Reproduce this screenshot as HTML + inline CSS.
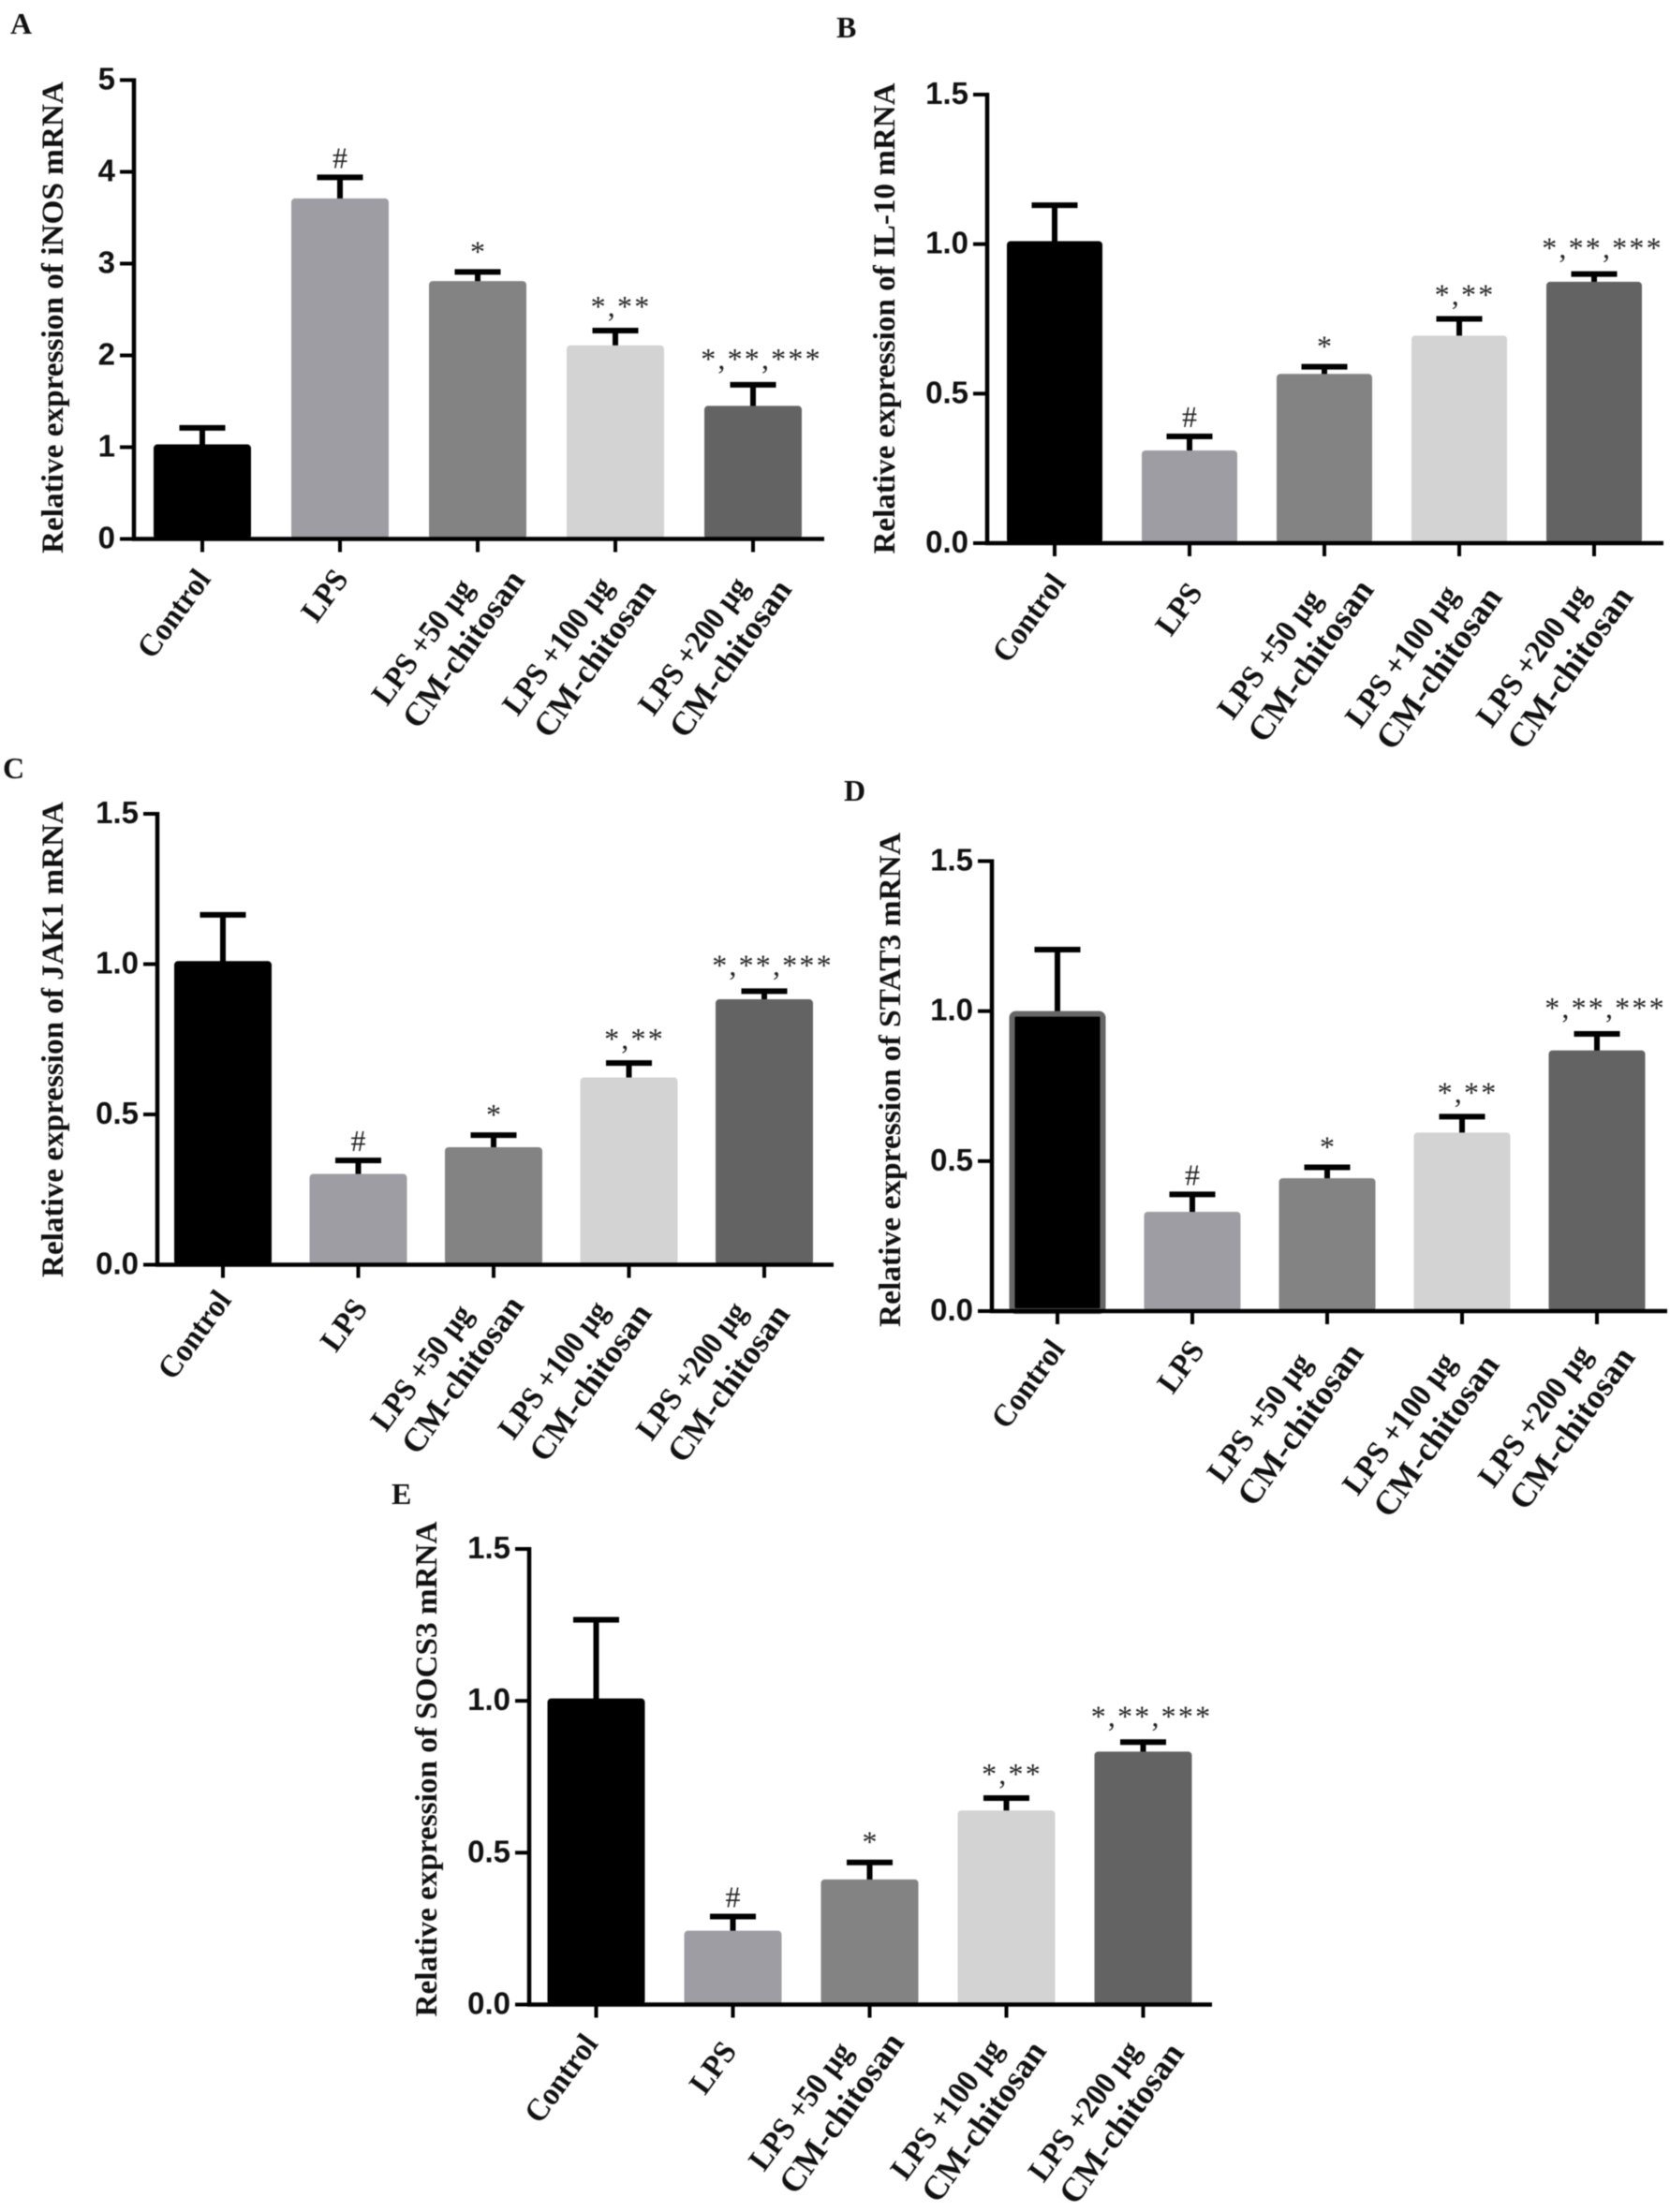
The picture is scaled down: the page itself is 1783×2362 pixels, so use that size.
<!DOCTYPE html>
<html lang="en">
<head>
<meta charset="utf-8">
<title>Relative mRNA expression bar charts</title>
<style>
html,body{margin:0;padding:0;background:#fff;}
body{width:1783px;height:2362px;overflow:hidden;}
svg{display:block;filter:blur(0.6px);}
.tick{font-family:"Liberation Sans",sans-serif;font-weight:700;font-size:33px;fill:#111;}
.serif{font-family:"Liberation Serif",serif;font-weight:700;fill:#111;}
.note{font-family:"Liberation Serif",serif;fill:#222;font-size:32px;}
</style>
</head>
<body>
<svg id="figure" xmlns="http://www.w3.org/2000/svg" width="1783" height="2362" viewBox="0 0 1783 2362"></svg>
<script>
var categories = [["Control"], ["LPS"], ["LPS +50 μg", "CM-chitosan"], ["LPS +100 μg", "CM-chitosan"], ["LPS +200 μg", "CM-chitosan"]];
var barColors = ["#000000", "#9d9da3", "#838383", "#d3d3d3", "#636363"];
var annotations = ["", "#", "*", "*,**", "*,**,***"];

var ticksA = ["0", "1", "2", "3", "4", "5"];
var ticksOther = ["0.0", "0.5", "1.0", "1.5"];

var iNOSMeans = [1.03, 3.71, 2.81, 2.11, 1.45];
var iNOSErrorTops = [1.21, 3.94, 2.91, 2.27, 1.68];
var il10Means = [1.01, 0.31, 0.566, 0.694, 0.874];
var il10ErrorTops = [1.13, 0.357, 0.59, 0.75, 0.90];
var jak1Means = [1.01, 0.302, 0.391, 0.623, 0.883];
var jak1ErrorTops = [1.164, 0.347, 0.431, 0.671, 0.91];
var stat3Means = [1.0, 0.331, 0.443, 0.595, 0.869];
var stat3ErrorTops = [1.205, 0.389, 0.479, 0.648, 0.924];
var socs3Means = [1.008, 0.243, 0.412, 0.639, 0.833];
var socs3ErrorTops = [1.267, 0.29, 0.468, 0.68, 0.864];

var panels = [
  {id:"a", letter:"A", letterX:11, letterY:36, means:iNOSMeans, tops:iNOSErrorTops, ticks:ticksA, yMax:5,
   title:"Relative expression of iNOS mRNA", titleX:67, titleMid:339, titleLen:504,
   axisX:143, axisEnd:880, yTop:85.5, y0:575.5, firstX:216, step:147, barW:104, outline:false, labelScale:1,
   nudgeX:[0,0,0,-7,-9], nudgeY:[0,0,0,10,10]},
  {id:"b", letter:"B", letterX:893, letterY:40, means:il10Means, tops:il10ErrorTops, ticks:ticksOther, yMax:1.5,
   title:"Relative expression of IL-10 mRNA", titleX:955, titleMid:340, titleLen:503,
   axisX:1054, axisEnd:1776, yTop:101, y0:580, firstX:1126, step:144, barW:102, outline:false, labelScale:1.03,
   nudgeX:[3,5,-1,-8,-12], nudgeY:[0,10,10.5,18.5,18]},
  {id:"c", letter:"C", letterX:3, letterY:831, means:jak1Means, tops:jak1ErrorTops, ticks:ticksOther, yMax:1.5,
   title:"Relative expression of JAK1 mRNA", titleX:67, titleMid:1110, titleLen:508,
   axisX:168, axisEnd:890, yTop:869, y0:1350.5, firstX:238, step:144.5, barW:104, outline:false, labelScale:1,
   nudgeX:[0,1,-18,-26,-23], nudgeY:[-5,4,0,8,9]},
  {id:"d", letter:"D", letterX:901, letterY:855, means:stat3Means, tops:stat3ErrorTops, ticks:ticksOther, yMax:1.5,
   title:"Relative expression of STAT3 mRNA", titleX:961, titleMid:1153, titleLen:528,
   axisX:1059, axisEnd:1780, yTop:919.5, y0:1400, firstX:1129, step:144, barW:103, outline:true, labelScale:1.03,
   nudgeX:[-1,4,-15,-14,-13], nudgeY:[-2,-1,6,18,10]},
  {id:"e", letter:"E", letterX:418, letterY:1606, means:socs3Means, tops:socs3ErrorTops, ticks:ticksOther, yMax:1.5,
   title:"Relative expression of SOCS3 mRNA", titleX:466, titleMid:1889, titleLen:529,
   axisX:565, axisEnd:1294, yTop:1654, y0:2140.5, firstX:636.5, step:146, barW:104, outline:false, labelScale:1.02,
   nudgeX:[-7,-5,-16,-10,-9], nudgeY:[-1,7,0,9,11]}
];

var SVG_NS = "http://www.w3.org/2000/svg";
var figure = document.getElementById("figure");

function make(tag, attrs, parent, text) {
  var node = document.createElementNS(SVG_NS, tag);
  for (var key in attrs) { node.setAttribute(key, attrs[key]); }
  if (text !== undefined) { node.textContent = text; }
  parent.appendChild(node);
  return node;
}

function yScale(p, value) { return p.y0 - (value / p.yMax) * (p.y0 - p.yTop); }
function xScale(p, index) { return p.firstX + index * p.step; }

function condense(node, ratio) {
  var length = node.getComputedTextLength() * ratio;
  node.setAttribute("textLength", length);
  node.setAttribute("lengthAdjust", "spacingAndGlyphs");
  return length;
}

panels.forEach(function (p) {
  var g = make("g", {}, figure);
  
  

  var letter = make("text", {x:p.letterX, y:p.letterY, "class":"serif", "font-size":32}, g, p.letter);
  
  

  var title = make("text", {
    transform:"translate(" + p.titleX + "," + p.titleMid + ") rotate(-90)",
    "text-anchor":"middle", "class":"serif", "font-size":33,
    textLength:p.titleLen, lengthAdjust:"spacingAndGlyphs"
  }, g, p.title);
  
  

  p.means.forEach(function (mean, i) {
    var cx = xScale(p, i);
    var topY = yScale(p, mean);
    var capY = yScale(p, p.tops[i]);

    var stem = make("line", {x1:cx, x2:cx, y1:capY, y2:topY + 3, stroke:"#000", "stroke-width":6}, g);
    
    

    var cap = make("line", {x1:cx - 24.5, x2:cx + 24.5, y1:capY, y2:capY, stroke:"#000", "stroke-width":6}, g);
    
    

    var inset = (p.outline && i === 0) ? 3 : 0;
    var bar = make("rect", {
      x:cx - p.barW / 2 + inset, y:topY + inset, width:p.barW - 2 * inset, height:p.y0 - topY - inset,
      rx:4, fill:barColors[i]
    }, g);
    if (inset) { bar.setAttribute("stroke", "#666"); bar.setAttribute("stroke-width", 6); }
    
    

    var note = annotations[i];
    if (note) {
      var isHash = note === "#";
      var shift = note.length > 4 ? 9 : (note.length > 1 ? 6 : 0);
      var lift = isHash ? 10 : (note.length > 4 ? 17 : (note.length > 1 ? 15 : 11));
      var noteText = make("text", {
        x:cx + shift, y:capY - lift, "text-anchor":"middle", "class":"note",
        "letter-spacing":note.length > 1 ? 2.2 : 0
      }, g, note);
      
      
    }

    var tick = make("line", {x1:cx, x2:cx, y1:p.y0, y2:p.y0 + 14, stroke:"#000", "stroke-width":4}, g);
    
    

    var lines = categories[i];
    var nx = p.nudgeX[i];
    var ny = p.nudgeY[i];
    if (lines.length === 1) {
      var single = make("text", {
        transform:"translate(" + (cx + 10 + nx) + "," + (p.y0 + 43 + ny) + ") rotate(-54)",
        "text-anchor":"end", "class":"serif", "font-size":34
      }, g, lines[0]);
      condense(single, 0.95);
      
      
    } else {
      var line1 = make("text", {
        "text-anchor":"start", "class":"serif", "font-size":34
      }, g, lines[0]);
      var line1Len = condense(line1, 0.93 * p.labelScale);
      var extra = Math.max(0, line1Len - 172 * p.labelScale);
      line1.setAttribute("transform", "translate(" + (cx - 96.7 + nx - extra * 0.6) + "," + (p.y0 + 179.5 + ny + extra * 0.8) + ") rotate(-53.5)");
      
      
      var line2 = make("text", {
        transform:"translate(" + (cx - 63 + nx) + "," + (p.y0 + 204.5 + ny) + ") rotate(-54.5)",
        "text-anchor":"start", "class":"serif", "font-size":35.5 * p.labelScale
      }, g, lines[1]);
      
      
    }
  });

  p.ticks.forEach(function (label) {
    var y = yScale(p, parseFloat(label));
    var yTick = make("line", {x1:p.axisX - 15, x2:p.axisX, y1:y, y2:y, stroke:"#000", "stroke-width":4}, g);
    
    
    var yLabel = make("text", {x:p.axisX - 20, y:y + 10, "text-anchor":"end", "class":"tick"}, g, label);
    
    
  });

  var yAxis = make("line", {x1:p.axisX, x2:p.axisX, y1:p.yTop - 2, y2:p.y0 + 2, stroke:"#000", "stroke-width":4.5}, g);
  
  

  var xAxis = make("line", {x1:p.axisX - 2, x2:p.axisEnd, y1:p.y0, y2:p.y0, stroke:"#000", "stroke-width":4.5}, g);
  
  
});
</script>
</body>
</html>
